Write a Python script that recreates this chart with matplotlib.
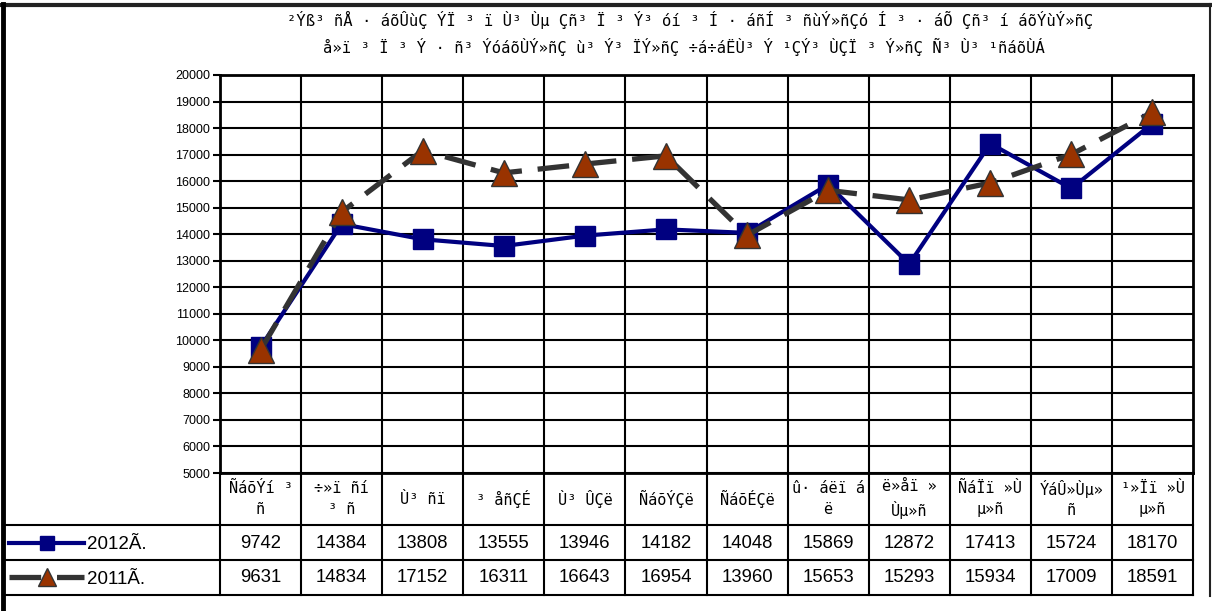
import matplotlib
matplotlib.use('Agg')
import matplotlib.pyplot as plt
from matplotlib.lines import Line2D
from matplotlib.transforms import blended_transform_factory
import numpy as np

plt.rcParams['font.family'] = ['Liberation Sans', 'DejaVu Sans']
MONO = ['DejaVu Sans Mono', 'DejaVu Sans']

# ---------------- data ----------------
title_lines = [
    "²Ýß³ ñÅ · áõÛùÇ ÝÏ ³ ï Ù³ Ùµ Çñ³ Ï ³ Ý³ óí ³ Í · áñÍ ³ ñùÝ»ñÇó Í ³ · áÕ Çñ³ í áõÝùÝ»ñÇ",
    "å»ï ³ Ï ³ Ý · ñ³ ÝóáõÙÝ»ñÇ ù³ Ý³ ÏÝ»ñÇ ÷á÷áËÙ³ Ý ¹ÇÝ³ ÙÇÏ ³ Ý»ñÇ Ñ³ Ù³ ¹ñáõÙÁ",
]
months = [
    "ÑáõÝí ³\nñ", "÷»ï ñí\n³ ñ", "Ù³ ñï", "³ åñÇÉ", "Ù³ ÛÇë", "ÑáõÝÇë",
    "ÑáõÉÇë", "û· áëï á\në", "ë»åï »\nÙµ»ñ", "ÑáÏï »Ù\nµ»ñ", "ÝáÛ»Ùµ»\nñ", "¹»Ïï »Ù\nµ»ñ",
]
values_2012 = [9742, 14384, 13808, 13555, 13946, 14182, 14048, 15869, 12872, 17413, 15724, 18170]
values_2011 = [9631, 14834, 17152, 16311, 16643, 16954, 13960, 15653, 15293, 15934, 17009, 18591]
series_labels = ["2012Ã.", "2011Ã."]
y_ticks = list(range(5000, 20001, 1000))

# ---------------- layout ----------------
W, H = 1212, 611
fig = plt.figure(figsize=(W / 100, H / 100), dpi=100)


def fx(p):
    return p / W


def fy(p):
    return 1 - p / H


ax = fig.add_axes([fx(220), fy(473), fx(1193) - fx(220), fy(75) - fy(473)])
x = np.arange(len(months))

l12, = ax.plot(x, values_2012, color='#000080', lw=3, marker='s', ms=14.5,
               mfc='#000080', mec='#000080', zorder=3, clip_on=False)
l11, = ax.plot(x, values_2011, color='#333333', lw=3.8, dashes=(6, 3), marker='^', ms=18.5,
               mfc='#993300', mec='#333333', mew=1, zorder=4, clip_on=False)

ax.set_xlim(-0.5, len(months) - 0.5)
ax.set_ylim(y_ticks[0], y_ticks[-1])
ax.set_yticks(y_ticks)
ax.set_yticklabels([str(v) for v in y_ticks], fontsize=9)
ax.set_xticks(x)
ax.set_xticklabels([])
ax.set_xticks(np.arange(0.5, len(months) - 0.5, 1), minor=True)
ax.tick_params(axis='x', which='both', length=0)
ax.tick_params(axis='y', length=5, width=1.5, direction='out', pad=2)
ax.grid(axis='y', which='major', color='black', lw=1.5)
ax.grid(axis='x', which='minor', color='black', lw=1.5)
ax.set_axisbelow(True)
for s in ax.spines.values():
    s.set_linewidth(2)
    s.set_color('black')

# ---------------- data table ----------------
bt = blended_transform_factory(ax.transData, fig.transFigure)
for b in np.arange(-0.5, len(months), 1):
    fig.add_artist(Line2D([b, b], [fy(473), fy(595)], transform=bt, color='black', lw=1.5))
for yy in (525, 560, 595):
    fig.add_artist(Line2D([fx(3), fx(1193)], [fy(yy), fy(yy)], transform=fig.transFigure,
                          color='black', lw=1.5))
for i, m in enumerate(months):
    ax.text(i, fy(499), m, transform=bt, ha='center', va='center', fontsize=11,
            family=MONO, linespacing=1.45)
for i, (a, b) in enumerate(zip(values_2012, values_2011)):
    ax.text(i, fy(543), str(a), transform=bt, ha='center', va='center', fontsize=13.3)
    ax.text(i, fy(578), str(b), transform=bt, ha='center', va='center', fontsize=13.3)

leg = ax.legend(handles=[l12, l11], labels=series_labels, loc='center left',
                bbox_to_anchor=(fx(9), fy(562)), bbox_transform=fig.transFigure,
                frameon=False, fontsize=13.5, handlelength=4.0, handletextpad=0.15,
                labelspacing=0.95, borderpad=0, borderaxespad=0, markerscale=0.7)

# ---------------- outer frame ----------------
fig.add_artist(Line2D([fx(0), fx(1211)], [fy(5), fy(5)], transform=fig.transFigure, color='#222222', lw=3))
fig.add_artist(Line2D([fx(3), fx(3)], [fy(4), fy(611)], transform=fig.transFigure, color='black', lw=3.5))
fig.add_artist(Line2D([fx(1210), fx(1210)], [fy(4), fy(596)], transform=fig.transFigure, color='#222222', lw=1.5))

# ---------------- title ----------------
fig.text(fx(690), fy(20), title_lines[0], ha='center', va='center', fontsize=11.2, family=MONO)
fig.text(fx(684), fy(47), title_lines[1], ha='center', va='center', fontsize=11.2, family=MONO)

fig.savefig('out.png', dpi=100)
